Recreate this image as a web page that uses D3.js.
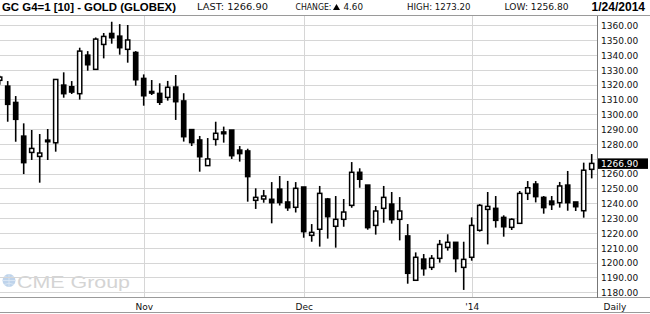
<!DOCTYPE html>
<html>
  <head>
    <title>Gold futures daily</title>
    <script src="https://d3js.org/d3.v7.min.js"></script>
    <style>
      body { margin: 0; background: #fff; }
      .small { font-family: "DejaVu Sans", sans-serif; font-size: 9px; fill: #111; }
      .grid line { stroke: #d6d6d6; stroke-width: 1; }
      .frame { stroke: #9a9a9a; stroke-width: 1; }
    </style>
  </head>
  <body>
    <svg width="650" height="314"></svg>
    <script>
      // trading days shown in the window (first one is clipped at the left edge)
      const dates = [
        "2013-10-08","2013-10-09","2013-10-10","2013-10-11","2013-10-14","2013-10-15","2013-10-16","2013-10-17","2013-10-18",
        "2013-10-21","2013-10-22","2013-10-23","2013-10-24","2013-10-25","2013-10-28","2013-10-29","2013-10-30","2013-10-31",
        "2013-11-01","2013-11-04","2013-11-05","2013-11-06","2013-11-07","2013-11-08","2013-11-11","2013-11-12","2013-11-13",
        "2013-11-14","2013-11-15","2013-11-18","2013-11-19","2013-11-20","2013-11-21","2013-11-22","2013-11-25","2013-11-26",
        "2013-11-27","2013-11-29",
        "2013-12-02","2013-12-03","2013-12-04","2013-12-05","2013-12-06","2013-12-09","2013-12-10","2013-12-11","2013-12-12",
        "2013-12-13","2013-12-16","2013-12-17","2013-12-18","2013-12-19","2013-12-20","2013-12-23","2013-12-24","2013-12-26",
        "2013-12-27","2013-12-30","2013-12-31",
        "2014-01-02","2014-01-03","2014-01-06","2014-01-07","2014-01-08","2014-01-09","2014-01-10","2014-01-13","2014-01-14",
        "2014-01-15","2014-01-16","2014-01-17","2014-01-21","2014-01-22","2014-01-23","2014-01-24"
      ];
      const opens = [
        1322.9,1319.0,1308.0,1285.3,1274.3,1271.6,1282.6,1280.8,1319.7,1318.6,1313.9,1339.9,1330.3,1347.1,1354.5,1352.7,1343.8,1341.7,
        1324.2,1315.4,1314.1,1311.4,1318.4,1309.0,1289.7,1282.7,1265.4,1283.1,1288.1,1289.4,1275.9,1275.3,1242.0,1242.9,1242.7,1249.6,
        1240.9,1237.3,
        1251.0,1218.4,1222.5,1242.9,1224.5,1229.2,1238.6,1260.9,1252.3,1225.1,1236.6,1239.5,1229.2,1218.0,1188.1,1202.4,1196.8,1202.9,
        1210.3,1213.7,1196.8,
        1203.6,1221.8,1235.9,1236.6,1230.5,1223.8,1226.5,1246.7,1253.0,1244.0,1241.5,1240.4,1252.3,1240.9,1235.0,1262.9
      ];
      const highs = [
        1326.0,1322.4,1312.3,1293.9,1289.4,1286.7,1290.1,1323.5,1328.3,1322.4,1344.9,1342.6,1351.8,1354.8,1362.4,1360.8,1360.2,1342.6,
        1326.9,1323.1,1320.9,1322.5,1326.5,1314.2,1290.1,1285.4,1284.0,1295.0,1291.7,1289.4,1278.6,1276.8,1250.1,1249.0,1254.3,1258.4,
        1255.1,1254.3,
        1251.0,1226.0,1251.7,1243.6,1244.9,1242.9,1267.8,1263.6,1252.3,1238.2,1251.7,1247.6,1244.2,1226.0,1206.9,1205.8,1205.1,1215.3,
        1219.1,1213.7,1214.1,
        1230.5,1239.5,1247.6,1244.9,1231.9,1229.9,1248.3,1255.0,1255.0,1244.9,1244.9,1254.4,1261.8,1240.9,1267.4,1273.2
      ];
      const lows = [
        1320.0,1295.0,1281.5,1259.7,1269.2,1253.9,1269.2,1274.8,1311.2,1313.7,1309.9,1329.4,1330.3,1337.7,1347.6,1340.2,1334.8,1319.3,
        1305.8,1313.0,1306.3,1309.2,1296.2,1281.6,1278.6,1261.3,1265.4,1278.9,1280.9,1269.9,1268.1,1241.1,1236.2,1240.4,1226.5,1238.5,
        1234.9,1233.8,
        1216.8,1214.1,1210.8,1216.2,1210.1,1224.2,1237.0,1250.5,1222.2,1218.9,1226.9,1226.3,1215.0,1185.8,1188.1,1191.2,1195.0,1200.0,
        1208.1,1193.5,1181.6,
        1201.3,1220.9,1212.3,1223.6,1217.5,1222.0,1226.5,1242.2,1240.6,1233.0,1235.5,1237.1,1235.0,1234.8,1230.3,1256.8
      ];
      const closes = [
        1325.1,1306.7,1296.6,1267.4,1277.0,1273.9,1281.5,1323.5,1313.9,1315.0,1342.6,1333.4,1350.7,1352.5,1351.6,1344.9,1350.1,1323.3,
        1312.5,1314.3,1308.1,1318.2,1308.5,1284.9,1280.9,1271.4,1269.9,1287.2,1286.9,1272.1,1273.5,1258.0,1244.0,1244.9,1240.4,1240.5,
        1237.0,1250.1,
        1220.9,1220.4,1246.7,1231.0,1229.2,1234.1,1260.9,1256.2,1223.6,1234.8,1244.0,1229.0,1234.8,1192.8,1203.6,1195.9,1202.9,1212.3,
        1213.7,1202.7,1202.2,
        1225.1,1238.6,1237.9,1228.5,1224.2,1229.2,1246.7,1250.5,1244.5,1237.1,1239.1,1251.7,1240.4,1237.7,1262.3,1266.9
      ];
      const monthTickDates = ["2013-11-01", "2013-12-02", "2014-01-02"];
      const monthTickLabels = ["Nov", "Dec", "'14"];
      const priceTicks = d3.range(1180, 1361, 10);

      const title = "GC G4=1 [10] - GOLD (GLOBEX)";
      const lastPrice = closes[closes.length - 1];
      const change = lastPrice - closes[closes.length - 2];
      const sessionHigh = highs[highs.length - 1];
      const sessionLow = lows[lows.length - 1];
      const sessionDate = "1/24/2014";

      const svg = d3.select("svg");
      const width = +svg.attr("width");
      const height = +svg.attr("height");
      const plot = {left: 0, right: 597, top: 16, bottom: 298};
      const fmt = d3.format(".2f");

      const bars = dates.map((d, i) => ({
        date: d, open: opens[i], high: highs[i], low: lows[i], close: closes[i]
      }));

      const xScale = d3.scalePoint()
        .domain(dates)
        .range([-0.3, -0.3 + 8 * (dates.length - 1)]);
      const yScale = d3.scaleLinear()
        .domain([1180, 1360])
        .range([292.3, 25.3]);

      svg.append("rect").attr("width", width).attr("height", height).attr("fill", "#fff");

      // watermark
      const wm = svg.append("g").attr("opacity", 0.9);
      wm.append("circle")
          .attr("cx", 9).attr("cy", 280.5).attr("r", 6.5)
          .attr("fill", "#b7cfe9");
      wm.append("path")
          .attr("d", "M2.5,280.5 H15.5 M9,274 V287 M4,276.5 Q9,279 14,276.5 M4,284.5 Q9,282 14,284.5")
          .attr("stroke", "#dce8f5").attr("stroke-width", 0.8).attr("fill", "none");
      wm.append("text")
          .attr("x", 17).attr("y", 287.5)
          .attr("textLength", 113).attr("lengthAdjust", "spacingAndGlyphs")
          .style("font-family", "'Liberation Sans', Arial, sans-serif")
          .style("font-size", "17px")
          .attr("fill", "#d0d0d0")
          .text("CME Group");

      // grid
      const grid = svg.append("g").attr("class", "grid");
      grid.selectAll(".h").data(priceTicks).enter().append("line")
          .attr("class", "h")
          .attr("x1", plot.left).attr("x2", plot.right)
          .attr("y1", d => Math.round(yScale(d)) + 0.5)
          .attr("y2", d => Math.round(yScale(d)) + 0.5);
      grid.selectAll(".v").data(monthTickDates).enter().append("line")
          .attr("class", "v")
          .attr("x1", d => Math.round(xScale(d)) + 0.5)
          .attr("x2", d => Math.round(xScale(d)) + 0.5)
          .attr("y1", plot.top).attr("y2", plot.bottom);

      // candles
      svg.append("clipPath").attr("id", "clip")
        .append("rect")
          .attr("x", plot.left).attr("y", plot.top)
          .attr("width", plot.right - plot.left).attr("height", plot.bottom - plot.top);
      const candles = svg.append("g").attr("clip-path", "url(#clip)")
        .selectAll("g").data(bars).enter().append("g")
          .attr("transform", d => `translate(${xScale(d.date)},0)`);
      candles.append("line")
          .attr("y1", d => yScale(d.high))
          .attr("y2", d => yScale(d.low))
          .attr("stroke", "#000").attr("stroke-width", 1.6);
      candles.append("rect")
          .attr("x", -2.1).attr("width", 4.2)
          .attr("y", d => yScale(Math.max(d.open, d.close)))
          .attr("height", d => Math.abs(yScale(d.open) - yScale(d.close)))
          .attr("fill", d => d.close >= d.open ? "#fff" : "#000")
          .attr("stroke", "#000").attr("stroke-width", 1.5);

      // frame lines
      svg.append("line").attr("class", "frame")
          .attr("x1", 0).attr("x2", width).attr("y1", 15.5).attr("y2", 15.5);
      svg.append("line").attr("class", "frame")
          .attr("x1", 0).attr("x2", width).attr("y1", 297.5).attr("y2", 297.5);
      svg.append("line").attr("class", "frame")
          .attr("x1", 0).attr("x2", width).attr("y1", 312.5).attr("y2", 312.5);
      svg.append("line")
          .attr("x1", 597.5).attr("x2", 597.5).attr("y1", 16).attr("y2", 298)
          .attr("stroke", "#777").attr("stroke-width", 1);

      // price axis (labels under the last-price tag are hidden, as on the original)
      const yAxis = d3.axisRight(yScale)
        .tickValues(priceTicks.filter(v => Math.abs(yScale(v) - yScale(lastPrice)) > 9))
        .tickFormat(fmt)
        .tickSize(0)
        .tickPadding(0);
      const yAxisG = svg.append("g")
          .attr("transform", "translate(601,0)")
          .call(yAxis);
      yAxisG.select(".domain").remove();
      yAxisG.selectAll("text")
          .attr("class", "small")
          .attr("dy", "0.36em")
          .style("font-family", "'DejaVu Sans', sans-serif")
          .style("font-size", "9px")
          .attr("fill", "#111");

      // last price tag
      svg.append("rect")
          .attr("x", 598).attr("y", yScale(lastPrice) - 5)
          .attr("width", 50).attr("height", 10.5)
          .attr("fill", "#000");
      svg.append("text").attr("class", "small")
          .attr("x", 601).attr("y", yScale(lastPrice))
          .attr("dy", "0.36em")
          .style("fill", "#fff")
          .text(fmt(lastPrice));

      // date axis
      svg.selectAll(".mlabel").data(monthTickDates).enter().append("text")
          .attr("class", "small mlabel")
          .attr("x", d => xScale(d) + 0.5)
          .attr("y", 309.5)
          .attr("text-anchor", "middle")
          .text((d, i) => monthTickLabels[i]);
      svg.append("text").attr("class", "small")
          .attr("x", 615).attr("y", 309.5)
          .attr("text-anchor", "middle")
          .text("Daily");

      // header
      svg.append("text")
          .attr("x", 2).attr("y", 11)
          .attr("textLength", 174).attr("lengthAdjust", "spacingAndGlyphs")
          .style("font-family", "'Liberation Sans', Arial, sans-serif")
          .style("font-size", "11.5px").style("font-weight", "bold")
          .text(title);
      const info = [
        {x: 197, w: 71, t: "LAST: " + fmt(lastPrice)},
        {x: 407, w: 63.5, t: "HIGH: " + fmt(sessionHigh)},
        {x: 504.5, w: 64, t: "LOW: " + fmt(sessionLow)}
      ];
      svg.selectAll(".info").data(info).enter().append("text")
          .attr("class", "small info")
          .attr("x", d => d.x).attr("y", 10)
          .attr("textLength", d => d.w).attr("lengthAdjust", "spacingAndGlyphs")
          .style("font-size", "8.5px")
          .text(d => d.t);
      svg.append("text").attr("class", "small")
          .attr("x", 295.5).attr("y", 10)
          .attr("textLength", 36).attr("lengthAdjust", "spacingAndGlyphs")
          .style("font-size", "8.5px")
          .text("CHANGE:");
      svg.append("path")
          .attr("d", "M333,10 L340,10 L336.5,4 Z")
          .attr("fill", "#000");
      svg.append("text").attr("class", "small")
          .attr("x", 343.5).attr("y", 10)
          .attr("textLength", 19.5).attr("lengthAdjust", "spacingAndGlyphs")
          .style("font-size", "8.5px")
          .text(fmt(change));
      svg.append("text")
          .attr("x", 645).attr("y", 11)
          .attr("text-anchor", "end")
          .style("font-family", "'Liberation Sans', Arial, sans-serif")
          .style("font-size", "12px").style("font-weight", "bold")
          .text(sessionDate);
    </script>
  </body>
</html>
